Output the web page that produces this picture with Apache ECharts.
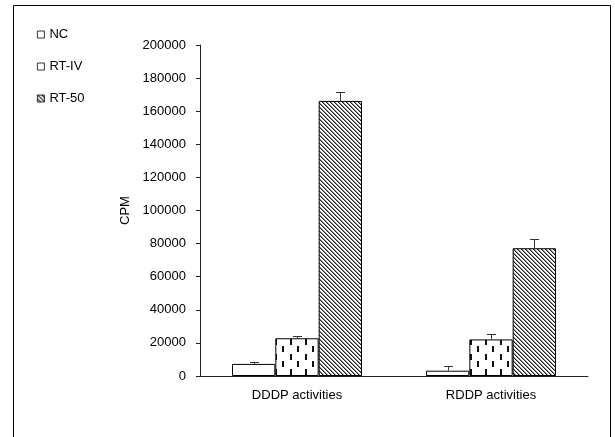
<!DOCTYPE html>
<html>
<head>
<meta charset="utf-8">
<script src="https://cdn.jsdelivr.net/npm/echarts@6/dist/echarts.min.js"></script>
<style>html,body{margin:0;padding:0;background:#fff;}#c{width:615px;height:437px;}</style>
</head>
<body>
<div id="c"></div>
<script>
const categories = ['DDDP activities', 'RDDP activities'];
const seriesNames = ['NC', 'RT-IV', 'RT-50'];
const ncValues = [7300, 3200];
const ncErrors = [1000, 2800];
const rtivValues = [22800, 22100];
const rtivErrors = [1400, 3000];
const rt50Values = [166200, 77200];
const rt50Errors = [5600, 5800];
const yTicks = { min: 0, max: 200000, interval: 20000 };

function dashPattern() {
  const c = document.createElement('canvas');
  c.width = 15; c.height = 15;
  const g = c.getContext('2d');
  g.fillStyle = '#fff'; g.fillRect(0, 0, 15, 15);
  g.fillStyle = '#111';
  g.fillRect(5, 9, 2, 6);
  g.fillRect(12, 1, 2, 6);
  return c;
}
function diagPattern() {
  const c = document.createElement('canvas');
  c.width = 8; c.height = 8;
  const g = c.getContext('2d');
  const img = g.createImageData(8, 8);
  for (let y = 0; y < 8; y++) for (let x = 0; x < 8; x++) {
    const d = ((x - y) % 4 + 4) % 4;
    const v = d === 0 ? 30 : (d === 1 ? 140 : 255);
    const i = (y * 8 + x) * 4;
    img.data[i] = img.data[i + 1] = img.data[i + 2] = v; img.data[i + 3] = 255;
  }
  g.putImageData(img, 0, 0);
  return c;
}

const fills = ['#ffffff', { image: dashPattern(), repeat: 'repeat' }, { image: diagPattern(), repeat: 'repeat' }];
const values = [ncValues, rtivValues, rt50Values];
const errors = [ncErrors, rtivErrors, rt50Errors];
const GAP = 0.33;

const barSeries = seriesNames.map((n, k) => ({
  name: n, type: 'bar', data: values[k], barGap: 0, barCategoryGap: (GAP * 100) + '%',
  itemStyle: { color: fills[k], borderColor: '#000', borderWidth: 1 },
  emphasis: { disabled: true }, z: 2
}));

const errData = [];
values.forEach((vals, k) => vals.forEach((v, i) => errData.push([i, v, errors[k][i], k])));

const errSeries = {
  type: 'custom', data: errData, encode: { x: 0, y: 1 }, z: 5, silent: true,
  renderItem: function (params, api) {
    const catW = api.size([1, 0])[0];
    const bw = catW * (1 - GAP) / 3;
    const off = (api.value(3) - 1) * bw;
    const base = api.coord([api.value(0), api.value(1)]);
    const top = api.coord([api.value(0), api.value(1) + api.value(2)]);
    const x = Math.round(base[0] + off) + 0.5;
    const ty = Math.round(top[1]) + 0.5;
    return {
      type: 'group', children: [
        { type: 'line', shape: { x1: x, y1: base[1], x2: x, y2: ty }, style: { stroke: '#333', lineWidth: 1 } },
        { type: 'line', shape: { x1: x - 4.5, y1: ty, x2: x + 4.5, y2: ty }, style: { stroke: '#333', lineWidth: 1 } }
      ]
    };
  }
};

const chart = echarts.init(document.getElementById('c'), null, { renderer: 'canvas' });
chart.setOption({
  animation: false,
  backgroundColor: '#fff',
  textStyle: { fontFamily: 'Liberation Sans, Arial, sans-serif' },
  graphic: [{ type: 'rect', shape: { x: 13.5, y: 5.5, width: 597, height: 440 }, style: { fill: 'none', stroke: '#000', lineWidth: 1 }, z: 0 }],
  legend: {
    data: seriesNames, orient: 'vertical', left: 32, top: 23, itemWidth: 7, itemHeight: 7, itemGap: 19,
    icon: 'rect', itemStyle: { borderWidth: 0.8, borderColor: '#000' },
    textStyle: { fontSize: 13, color: '#000' }, selectedMode: false
  },
  grid: { left: 200, right: 27, top: 45, bottom: 61, containLabel: false },
  xAxis: {
    type: 'category', data: categories,
    axisLine: { lineStyle: { color: '#222', width: 1 } },
    axisTick: { inside: true, length: 5, lineStyle: { color: '#222' } },
    axisLabel: { color: '#000', fontSize: 13, margin: 13 }
  },
  yAxis: {
    type: 'value', min: yTicks.min, max: yTicks.max, interval: yTicks.interval,
    name: 'CPM', nameLocation: 'middle', nameGap: 67, nameRotate: 90,
    nameTextStyle: { color: '#000', fontSize: 13 },
    axisLine: { show: true, lineStyle: { color: '#222', width: 1 } },
    axisTick: { show: true, length: 4, lineStyle: { color: '#222' } },
    axisLabel: { color: '#000', fontSize: 13, margin: 14, formatter: v => String(v) },
    splitLine: { show: false }
  },
  series: barSeries.concat([errSeries])
});
</script>
</body>
</html>
